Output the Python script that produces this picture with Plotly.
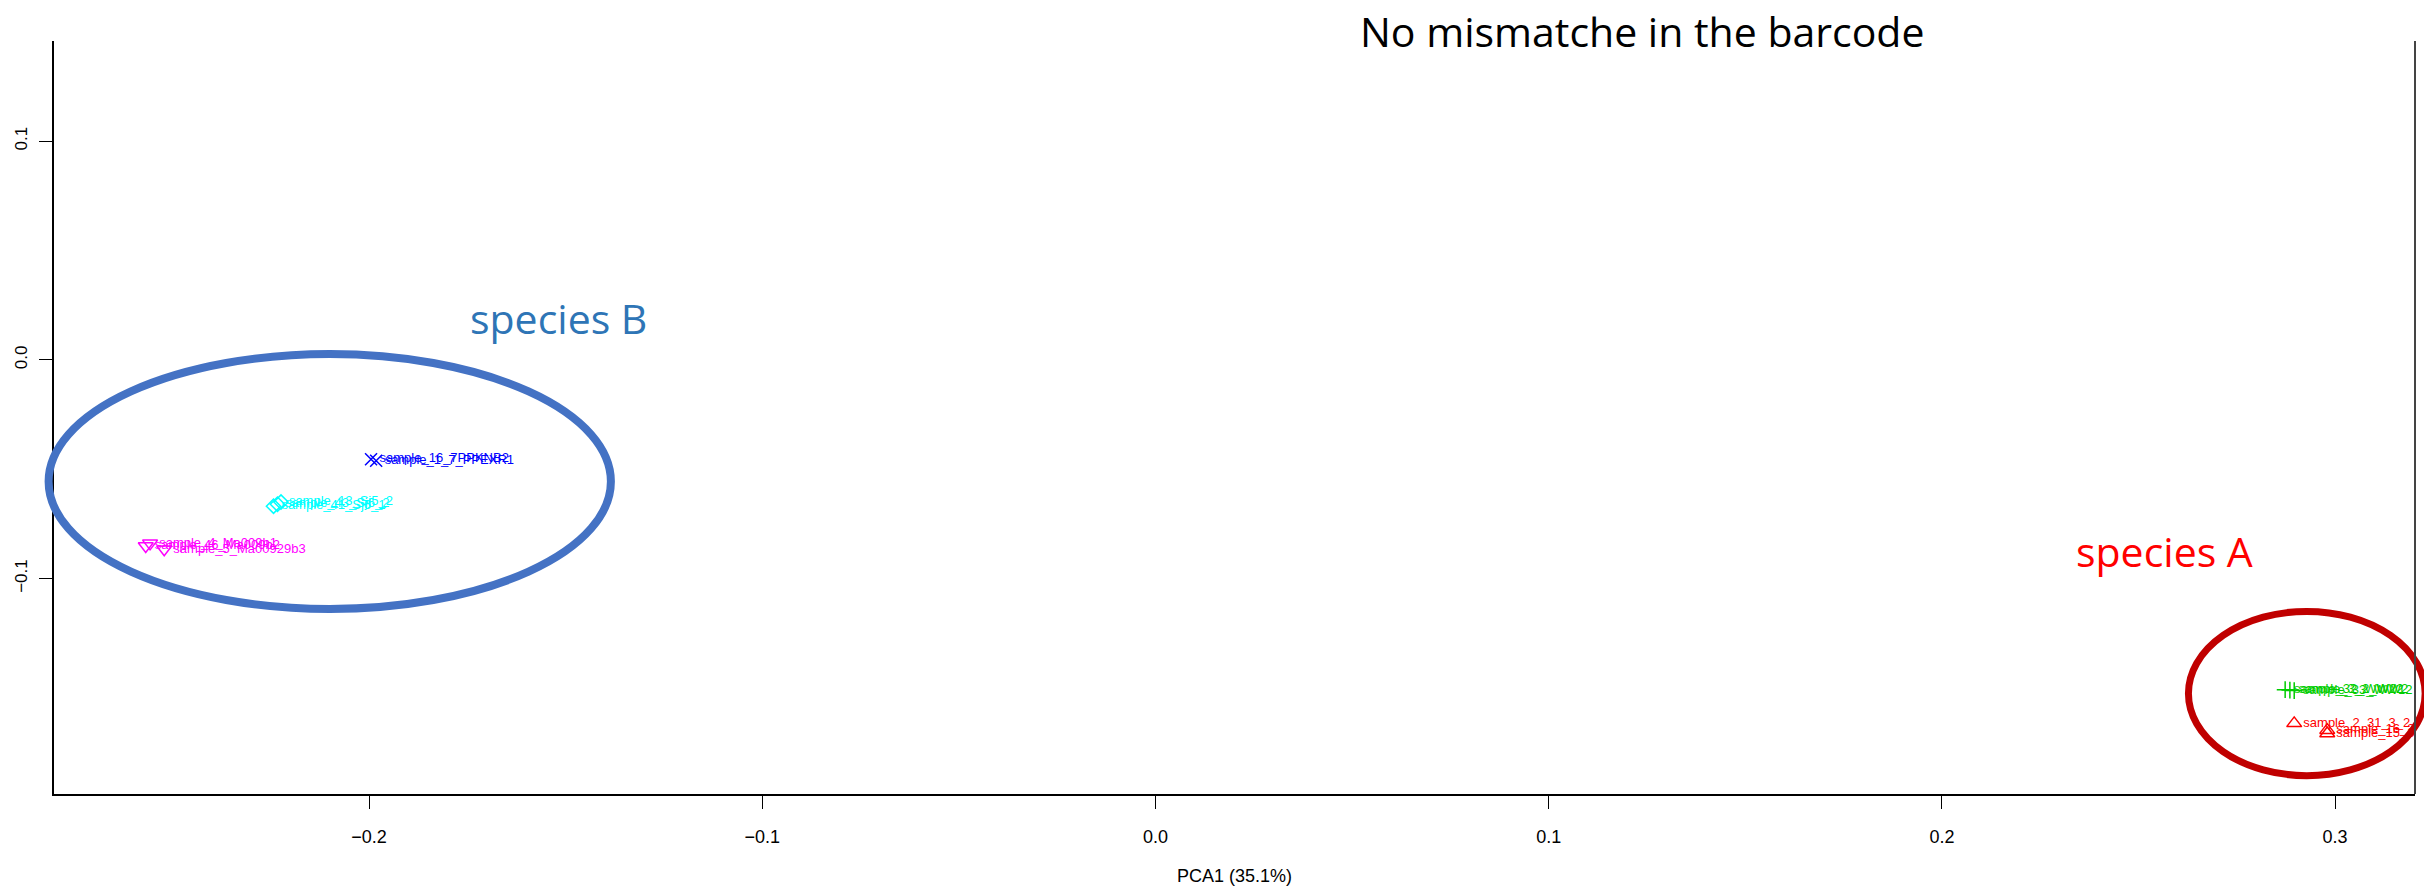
import plotly.graph_objects as go

# ---------------- data ----------------
blue_x = [-0.1995, -0.1982]
blue_y = [-0.0454, -0.0461]
blue_lab = ["sample_16_7PPKNB2", "sample_1_7_PPEXR1"]

cyan_x = [-0.2243, -0.2233, -0.2224]
cyan_y = [-0.0669, -0.0660, -0.0650]
cyan_lab = ["sample_41_Sj6_1", "sample_43_Sj6_2", "sample_13_Sj5_2"]

mag_x = [-0.2568, -0.2557, -0.2521]
mag_y = [-0.0851, -0.0839, -0.0866]
mag_lab = ["sample_46_Ma009b2", "sample_4_Ma009b1", "sample_5_Ma00929b3"]

green_x = [0.2873, 0.2885, 0.2896]
green_y = [-0.1508, -0.1510, -0.1512]
green_lab = ["sample_32_WW22", "sample_3_2_WW2", "sample_33_WW12"]

red_x = [0.2896, 0.2980, 0.2980]
red_y = [-0.1662, -0.1693, -0.1708]
red_lab = ["sample_2_31_3_2", "sample_16_3_1", "sample_15_3_2"]

x_ticks = [-0.2, -0.1, 0.0, 0.1, 0.2, 0.3]
y_ticks = [-0.1, 0.0, 0.1]
x_range = [-0.28013, 0.32032]
y_range = [-0.1985, 0.1458]

# ellipse extents (data units): x0, x1, y0, y1
ellipse_B = [-0.2815, -0.1385, -0.1139, 0.00265]
ellipse_A = [0.2627, 0.3229, -0.1901, -0.1150]

title_text = "No mismatche in the barcode"
xlabel = "PCA1 (35.1%)"

# ---------------- figure ----------------
fig = go.Figure()

def add_group(xs, ys, labs, color, symbol, size):
    fig.add_trace(go.Scatter(
        x=xs, y=ys, text=labs, mode="markers+text",
        textposition="middle right",
        textfont=dict(family="Liberation Sans", size=13, color=color),
        marker=dict(symbol=symbol, size=size, color=color,
                    line=dict(color=color, width=1.5)),
        cliponaxis=True, showlegend=False, hoverinfo="skip"))

add_group(blue_x, blue_y, blue_lab, "#0000FF", "x-thin-open", 12)
add_group(cyan_x, cyan_y, cyan_lab, "#00FFFF", "diamond-open", 11)
add_group(mag_x, mag_y, mag_lab, "#FF00FF", "triangle-down-open", 13)
add_group(green_x, green_y, green_lab, "#00CD00", "cross-thin-open", 12)
add_group(red_x, red_y, red_lab, "#FF0000", "triangle-up-open", 13)

def to_paper_x(v):
    return (v - x_range[0]) / (x_range[1] - x_range[0])

def to_paper_y(v):
    return (v - y_range[0]) / (y_range[1] - y_range[0])

for e, col, w in [(ellipse_B, "#4472C4", 8), (ellipse_A, "#C00000", 7)]:
    fig.add_shape(type="circle", xref="paper", yref="paper",
                  x0=to_paper_x(e[0]), x1=to_paper_x(e[1]),
                  y0=to_paper_y(e[2]), y1=to_paper_y(e[3]),
                  line=dict(color=col, width=w), layer="above")

# right border line
fig.add_shape(type="line", xref="paper", yref="paper", x0=1, x1=1, y0=0, y1=1,
              line=dict(color="#444444", width=2), layer="above")

fig.add_annotation(text="species B", x=-0.1517, y=0.0191, xref="x", yref="y",
                   showarrow=False, xanchor="center", yanchor="middle",
                   font=dict(family="Open Sans", size=41, color="#2E75B6"))
fig.add_annotation(text="species A", x=0.2565, y=-0.0873, xref="x", yref="y",
                   showarrow=False, xanchor="center", yanchor="middle",
                   font=dict(family="Open Sans", size=41, color="#FF0000"))
fig.add_annotation(text=title_text, x=0.6728, y=1.0133, xref="paper", yref="paper",
                   showarrow=False, xanchor="center", yanchor="middle",
                   font=dict(family="Open Sans", size=41, color="#000000"))

# page body has an 8px default margin; size/margins compensate for it
fig.update_layout(
    width=2416, height=878,
    margin=dict(l=46, r=9, t=33, b=92),
    paper_bgcolor="white", plot_bgcolor="white",
    xaxis=dict(range=x_range, tickvals=x_ticks, tickformat=".1f",
               showgrid=False, zeroline=False, showline=True, automargin=False,
               linecolor="#000000", linewidth=2,
               ticks="outside", ticklen=13, tickcolor="#000000", tickwidth=1,
               ticklabelstandoff=12,
               tickfont=dict(family="Liberation Sans", size=18, color="#000000"),
               title=dict(text=xlabel, standoff=28,
                          font=dict(family="Liberation Sans", size=18, color="#000000"))),
    yaxis=dict(range=y_range, tickvals=y_ticks, tickformat=".1f",
               showgrid=False, zeroline=False, showline=True, automargin=False,
               linecolor="#000000", linewidth=2,
               ticks="outside", ticklen=13, tickcolor="#000000", tickwidth=1,
               tickangle=-90, ticklabelstandoff=5,
               tickfont=dict(family="Liberation Sans", size=17, color="#000000")),
)

fig.write_html("out.html")
